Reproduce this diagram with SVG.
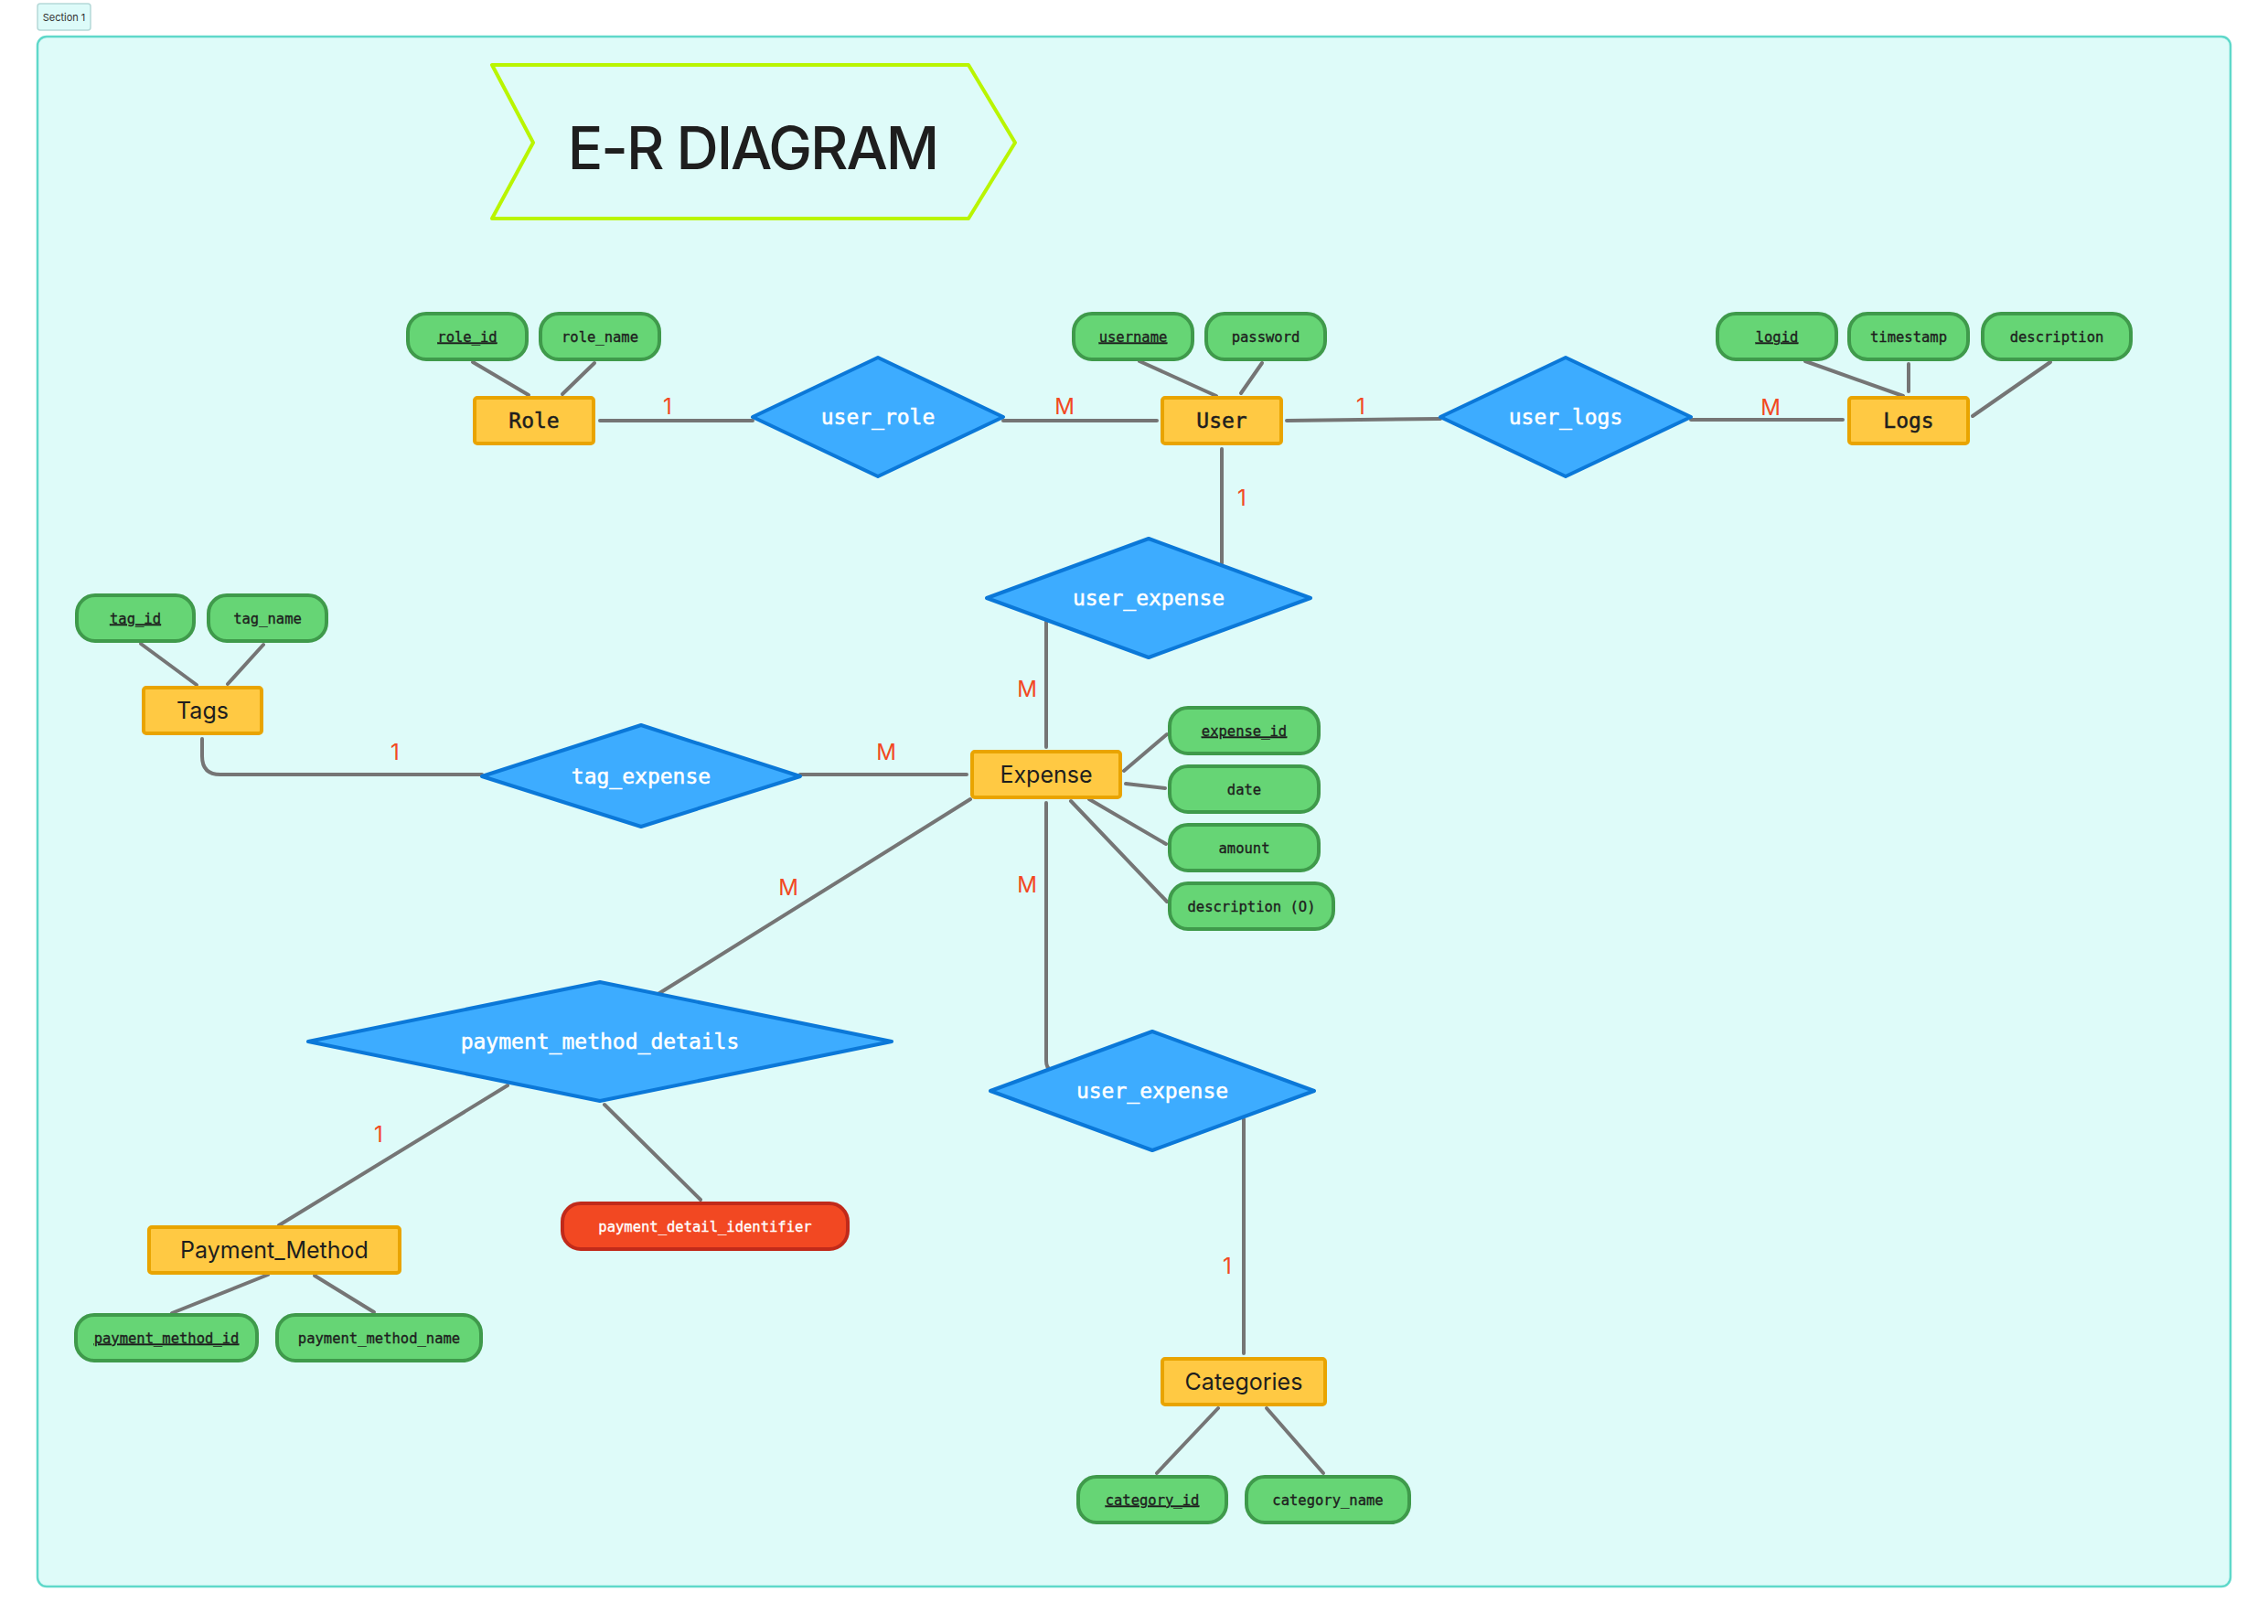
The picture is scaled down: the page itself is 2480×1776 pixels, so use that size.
<svg xmlns="http://www.w3.org/2000/svg" width="2480" height="1776" viewBox="0 0 2480 1776">
<defs>
<style>
.ent{fill:#ffc943;stroke:#e9a400;stroke-width:4}
.att{fill:#66d575;stroke:#3f9a4b;stroke-width:4}
.key{fill:#f24822;stroke:#c12a1a;stroke-width:4}
.rel{fill:#3dacff;stroke:#0b78d8;stroke-width:4;stroke-linejoin:round}
.mono{font-family:"DejaVu Sans Mono","Liberation Mono",monospace}
.sans{font-family:Inter,"Noto Sans","Liberation Sans",sans-serif}
.at{font-size:15.5px;fill:#1e1e1e;stroke:#1e1e1e;stroke-width:0.35px;text-anchor:middle}
.wt{fill:#ffffff;stroke:#ffffff}
.et{font-size:23px;fill:#1e1e1e;stroke:#1e1e1e;stroke-width:0.5px;text-anchor:middle}
.es{font-size:25px;fill:#1e1e1e;text-anchor:middle}
.rt{font-size:23px;fill:#ffffff;stroke:#ffffff;stroke-width:0.5px;text-anchor:middle}
.card{font-size:24px;fill:#f24822;text-anchor:middle}
.u{text-decoration:underline}
#connectors line,#connectors path{stroke:#757575;stroke-width:4;stroke-linecap:round;fill:none}
</style>
</defs>
<rect width="2480" height="1776" fill="#ffffff"/>
<g id="section">
<rect x="41" y="40" width="2398" height="1695" rx="10" fill="#defbf9" stroke="#5fd8ca" stroke-width="2.5"/>
<rect x="41" y="4" width="58" height="29" rx="3" fill="#ddfbf9" stroke="#b5d9d8" stroke-width="1.5"/>
<text x="70" y="23" class="sans" font-size="11" fill="#333" text-anchor="middle">Section 1</text>
</g>
<g id="title">
<polygon points="538,71 1059,71 1110,156 1059,239 538,239 583,156" fill="none" stroke="#b9f500" stroke-width="4" stroke-linejoin="round"/>
<text x="823" y="185" class="sans" font-size="64" font-weight="500" letter-spacing="-2" fill="#1e1e1e" text-anchor="middle">E-R DIAGRAM</text>
</g>
<g id="connectors">
<line x1="517" y1="396" x2="578" y2="432"/>
<line x1="650" y1="397" x2="615" y2="431"/>
<line x1="656" y1="460" x2="823" y2="460"/>
<line x1="1097" y1="460" x2="1265" y2="460"/>
<line x1="1246" y1="395" x2="1330" y2="433"/>
<line x1="1380" y1="397" x2="1357" y2="430"/>
<line x1="1407" y1="460" x2="1575" y2="458"/>
<line x1="1849" y1="459" x2="2015" y2="459"/>
<line x1="1974" y1="395" x2="2081" y2="433"/>
<line x1="2087" y1="398" x2="2087" y2="428"/>
<line x1="2242" y1="396" x2="2157" y2="455"/>
<line x1="1336" y1="491" x2="1336" y2="616"/>
<line x1="1144" y1="680" x2="1144" y2="817"/>
<line x1="154" y1="704" x2="215" y2="749"/>
<line x1="288" y1="705" x2="249" y2="748"/>
<path d="M221,808 L221,827 Q221,847 241,847 L527,847"/>
<line x1="875" y1="847" x2="1057" y2="847"/>
<line x1="1229" y1="843" x2="1276" y2="803"/>
<line x1="1231" y1="857" x2="1274" y2="862"/>
<line x1="1191" y1="874" x2="1275" y2="923"/>
<line x1="1171" y1="876" x2="1276" y2="986"/>
<line x1="1061" y1="874" x2="718" y2="1088"/>
<path d="M1144,878 L1144,1160 Q1144,1168 1149,1170"/>
<line x1="1360" y1="1224" x2="1360" y2="1480"/>
<line x1="555" y1="1187" x2="305" y2="1340"/>
<line x1="661" y1="1208" x2="766" y2="1312"/>
<line x1="293" y1="1394" x2="188" y2="1436"/>
<line x1="344" y1="1395" x2="409" y2="1435"/>
<line x1="1332" y1="1540" x2="1265" y2="1611"/>
<line x1="1385" y1="1540" x2="1447" y2="1611"/>
</g>
<g id="cardinalities" class="sans">
<text class="card" x="730" y="453">1</text>
<text class="card" x="1164" y="453">M</text>
<text class="card" x="1488" y="453">1</text>
<text class="card" x="1936" y="454">M</text>
<text class="card" x="1358" y="553">1</text>
<text class="card" x="1123" y="762">M</text>
<text class="card" x="432" y="831">1</text>
<text class="card" x="969" y="831">M</text>
<text class="card" x="862" y="979">M</text>
<text class="card" x="1123" y="976">M</text>
<text class="card" x="414" y="1249">1</text>
<text class="card" x="1342" y="1393">1</text>
</g>
<g id="Role"><rect class="ent" x="519" y="435" width="130" height="50" rx="3"/><text class="mono et" x="584" y="468">Role</text></g>
<g id="User"><rect class="ent" x="1271" y="435" width="130" height="50" rx="3"/><text class="mono et" x="1336" y="468">User</text></g>
<g id="Logs"><rect class="ent" x="2022" y="435" width="130" height="50" rx="3"/><text class="mono et" x="2087" y="468">Logs</text></g>
<g id="Tags"><rect class="ent" x="157" y="752" width="129" height="50" rx="3"/><text class="sans es" x="221.5" y="786">Tags</text></g>
<g id="Expense"><rect class="ent" x="1063" y="822" width="162" height="50" rx="3"/><text class="sans es" x="1144" y="856">Expense</text></g>
<g id="Payment_Method"><rect class="ent" x="163" y="1342" width="274" height="50" rx="3"/><text class="sans es" x="300" y="1376">Payment_Method</text></g>
<g id="Categories"><rect class="ent" x="1271" y="1486" width="178" height="50" rx="3"/><text class="sans es" x="1360" y="1520">Categories</text></g>
<g id="role_id"><rect class="att" x="446" y="343" width="130" height="50" rx="20"/><text class="mono at u" x="511" y="373.5">role_id</text></g>
<g id="role_name"><rect class="att" x="591" y="343" width="130" height="50" rx="20"/><text class="mono at" x="656" y="373.5">role_name</text></g>
<g id="username"><rect class="att" x="1174" y="343" width="130" height="50" rx="20"/><text class="mono at u" x="1239" y="373.5">username</text></g>
<g id="password"><rect class="att" x="1319" y="343" width="130" height="50" rx="20"/><text class="mono at" x="1384" y="373.5">password</text></g>
<g id="logid"><rect class="att" x="1878" y="343" width="130" height="50" rx="20"/><text class="mono at u" x="1943" y="373.5">logid</text></g>
<g id="timestamp"><rect class="att" x="2022" y="343" width="130" height="50" rx="20"/><text class="mono at" x="2087" y="373.5">timestamp</text></g>
<g id="log_description"><rect class="att" x="2168" y="343" width="162" height="50" rx="20"/><text class="mono at" x="2249" y="373.5">description</text></g>
<g id="tag_id"><rect class="att" x="84" y="651" width="128" height="50" rx="20"/><text class="mono at u" x="148" y="681.5">tag_id</text></g>
<g id="tag_name"><rect class="att" x="228" y="651" width="129" height="50" rx="20"/><text class="mono at" x="292.5" y="681.5">tag_name</text></g>
<g id="expense_id"><rect class="att" x="1279" y="774" width="163" height="50" rx="20"/><text class="mono at u" x="1360.5" y="804.5">expense_id</text></g>
<g id="date"><rect class="att" x="1279" y="838" width="163" height="50" rx="20"/><text class="mono at" x="1360.5" y="868.5">date</text></g>
<g id="amount"><rect class="att" x="1279" y="902" width="163" height="50" rx="20"/><text class="mono at" x="1360.5" y="932.5">amount</text></g>
<g id="expense_description"><rect class="att" x="1279" y="966" width="179" height="50" rx="20"/><text class="mono at" x="1368.5" y="996.5">description (O)</text></g>
<g id="payment_detail_identifier"><rect class="key" x="615" y="1316" width="312" height="50" rx="20"/><text class="mono at wt" x="771" y="1346.5">payment_detail_identifier</text></g>
<g id="payment_method_id"><rect class="att" x="83" y="1438" width="198" height="50" rx="20"/><text class="mono at u" x="182" y="1468.5">payment_method_id</text></g>
<g id="payment_method_name"><rect class="att" x="303" y="1438" width="223" height="50" rx="20"/><text class="mono at" x="414.5" y="1468.5">payment_method_name</text></g>
<g id="category_id"><rect class="att" x="1179" y="1615" width="162" height="50" rx="20"/><text class="mono at u" x="1260" y="1645.5">category_id</text></g>
<g id="category_name"><rect class="att" x="1363" y="1615" width="178" height="50" rx="20"/><text class="mono at" x="1452" y="1645.5">category_name</text></g>
<g id="user_role"><polygon class="rel" points="823,456 960,391 1097,456 960,521"/><text class="mono rt" x="960" y="464">user_role</text></g>
<g id="user_logs"><polygon class="rel" points="1575,456 1712,391 1849,456 1712,521"/><text class="mono rt" x="1712" y="464">user_logs</text></g>
<g id="user_expense_top"><polygon class="rel" points="1079,654 1256,589 1433,654 1256,719"/><text class="mono rt" x="1256" y="662">user_expense</text></g>
<g id="tag_expense"><polygon class="rel" points="527,849 701,793 875,849 701,904"/><text class="mono rt" x="701" y="857">tag_expense</text></g>
<g id="payment_method_details"><polygon class="rel" points="337,1139 656,1074 975,1139 656,1204"/><text class="mono rt" x="656" y="1147">payment_method_details</text></g>
<g id="user_expense_bottom"><polygon class="rel" points="1083,1193 1260,1128 1437,1193 1260,1258"/><text class="mono rt" x="1260" y="1201">user_expense</text></g>
</svg>
